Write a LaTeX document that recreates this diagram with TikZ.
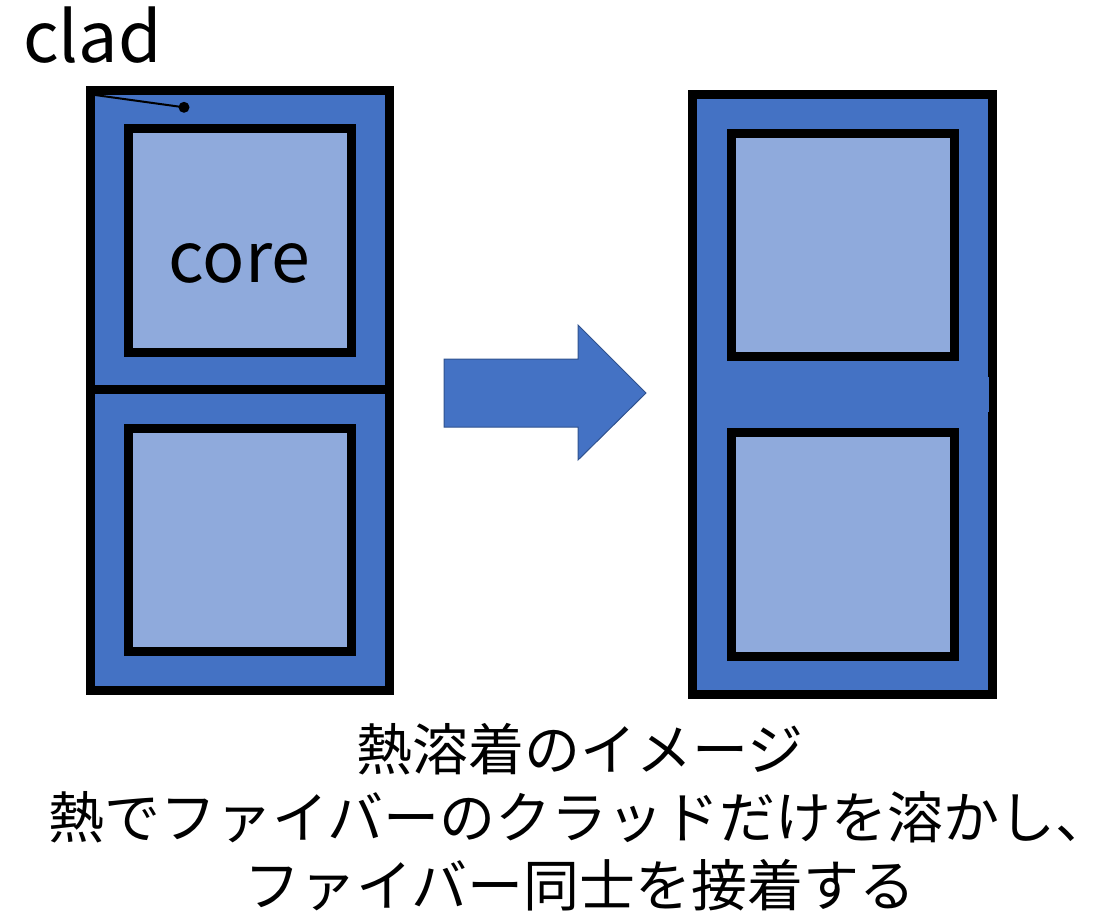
\documentclass[tikz,border=0pt]{standalone}
\usepackage{fontspec}
\setmainfont{Noto Sans CJK JP}
\definecolor{cladblue}{HTML}{4472C4}
\definecolor{coreblue}{HTML}{8FAADC}
\definecolor{arrowedge}{HTML}{2F528F}

\begin{document}
\begin{tikzpicture}[x=1pt,y=-1pt,
  cladbox/.style={draw=black,fill=cladblue,line width=9pt},
  corebox/.style={draw=black,fill=coreblue,line width=9pt},
  fusepatch/.style={fill=cladblue},
  bigarrow/.style={fill=cladblue,draw=arrowedge,line width=1pt},
  leader/.style={line width=2pt},
  latinlabel/.style={font=\fontsize{70}{84}\selectfont,inner sep=0pt},
  caption/.style={font=\fontsize{56}{68}\selectfont,inner sep=0pt}]
\useasboundingbox (0,0) rectangle (1115,911);

% two separate fibres: cladding with a core inside each
\draw[cladbox] (90,90.5) rectangle (389.5,389.5);
\draw[cladbox] (90,389.5) rectangle (389.5,690);
\draw[corebox] (128,128) rectangle (351.5,352);
\draw[corebox] (128,428.5) rectangle (351.5,651.5);

% label "clad" with its leader line
\node[latinlabel,anchor=base west] (cladtext) at (23,62.5) {clad};
\coordinate (cladcorner) at (95,95);
\coordinate (claddot) at (184,107.3);
\draw[leader] (cladcorner) -- (claddot);
\fill (claddot) circle (5.5);
\node[latinlabel,anchor=base] (coretext) at (239.5,282.5) {core};

% block arrow
\draw[bigarrow] (444,359) -- (578,359) -- (578,325) -- (646,393)
  -- (578,460) -- (578,427) -- (444,427) -- cycle;

% fused pair: one shared cladding around both cores
\draw[cladbox] (692,94.5) rectangle (992.5,694);
\fill[fusepatch] (696.5,377) rectangle (989,412);
\draw[corebox] (731,133) rectangle (954,356);
\draw[corebox] (731,432.5) rectangle (954,656);

% caption, three centred lines
\node[caption] (cap1) at (580,749) {熱溶着のイメージ};
\node[caption] (cap2) at (580,817) {熱でファイバーのクラッドだけを溶かし、};
\node[caption] (cap3) at (580,885) {ファイバー同士を接着する};
\end{tikzpicture}
\end{document}
